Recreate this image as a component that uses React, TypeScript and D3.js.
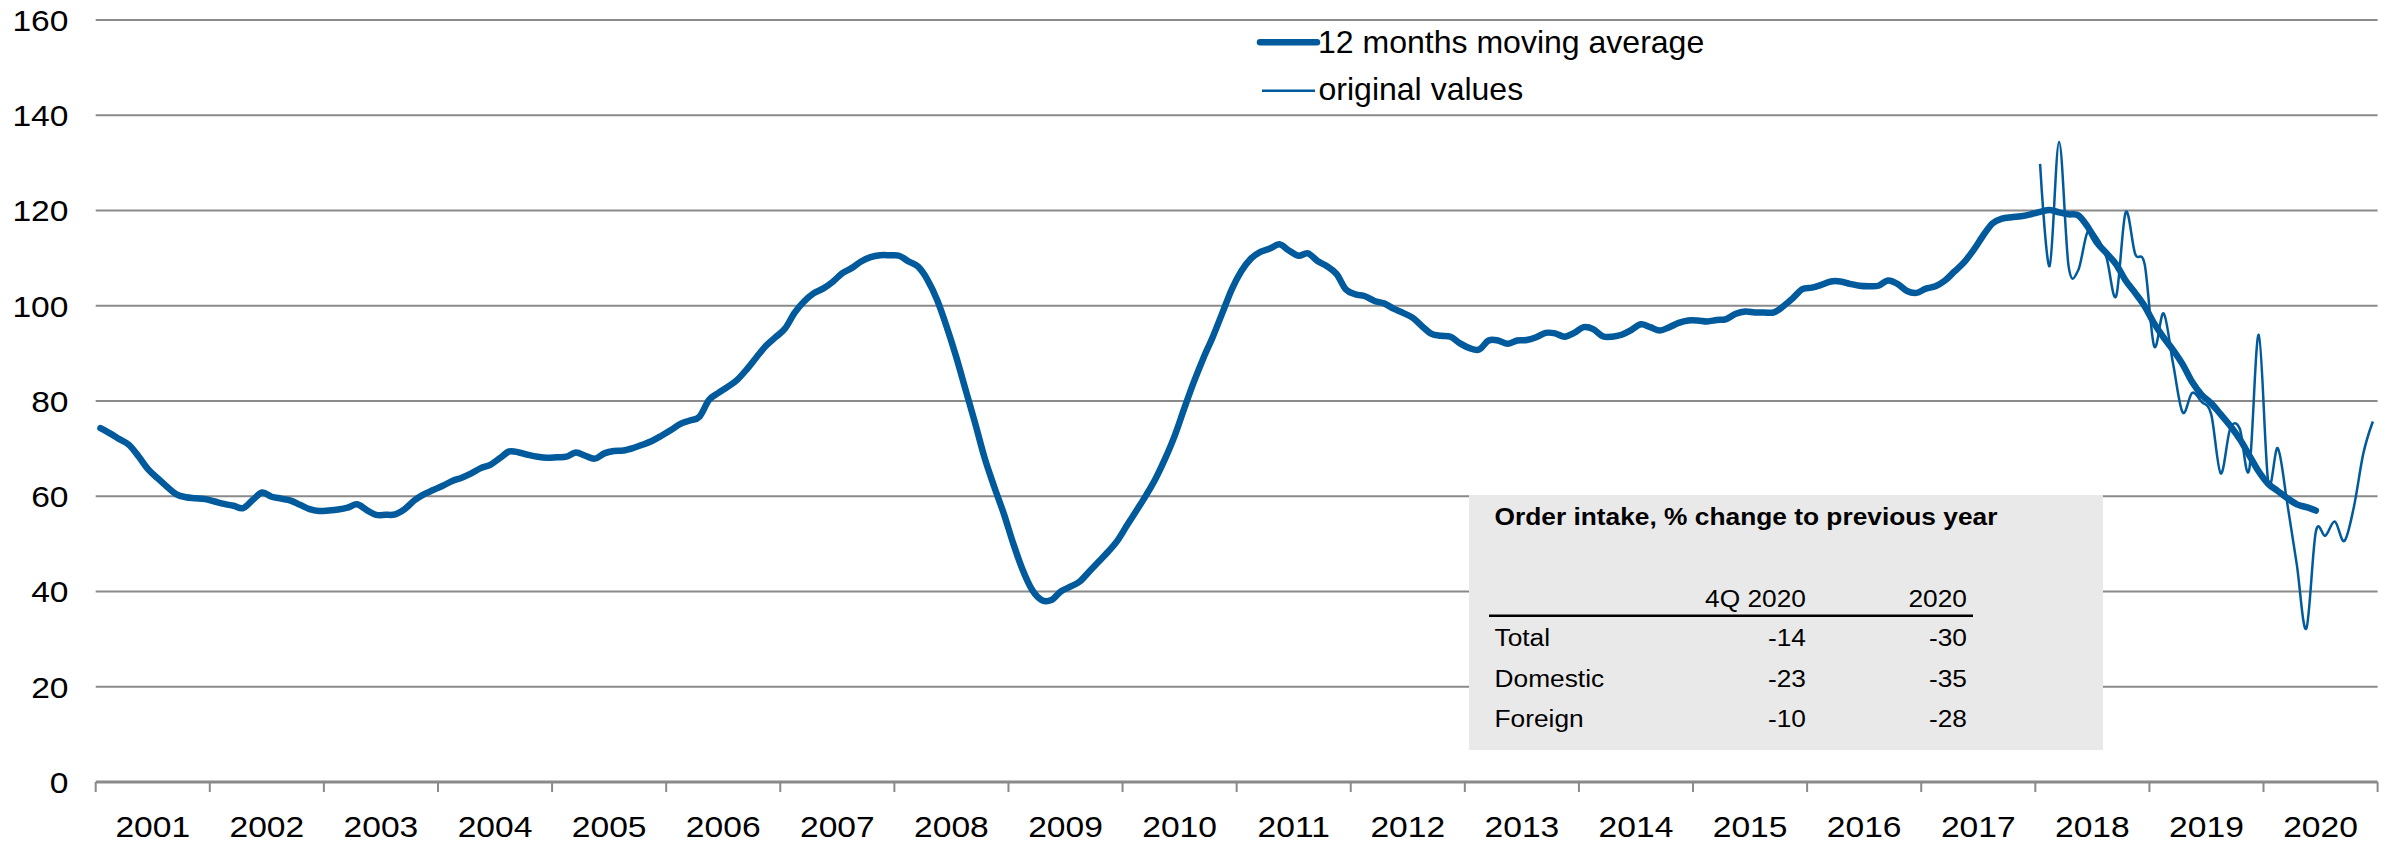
import React from "react";
import * as d3 from "d3";

// ---------- DATA ----------
const years = ["2001","2002","2003","2004","2005","2006","2007","2008","2009","2010","2011","2012","2013","2014","2015","2016","2017","2018","2019","2020"];
const yTicks = [0, 20, 40, 60, 80, 100, 120, 140, 160];

// 12 months moving average, monthly from Jan 2001
const movingAverageStart = { year: 2001, month: 1 };
const movingAverage = [
  74.3, 73.2, 72.0, 70.8, 68.4, 65.7, 63.8, 62.0, 60.4, 59.8, 59.6, 59.4,
  58.9, 58.4, 58.0, 57.5, 59.2, 60.8, 59.9, 59.5, 59.1, 58.2, 57.3, 56.9,
  57.0, 57.2, 57.6, 58.3, 57.1, 56.1, 56.1, 56.2, 57.3, 59.1, 60.4, 61.3,
  62.2, 63.2, 63.9, 64.8, 65.9, 66.6, 68.0, 69.4, 69.2, 68.7, 68.3, 68.1,
  68.2, 68.3, 69.2, 68.5, 67.9, 69.0, 69.5, 69.6, 70.1, 70.8, 71.6, 72.7,
  73.9, 75.2, 75.9, 76.7, 80.2, 81.7, 83.0, 84.5, 86.7, 89.2, 91.6, 93.4,
  95.2, 98.5, 100.9, 102.6, 103.6, 105.0, 106.8, 107.9, 109.3, 110.2, 110.6, 110.6,
  110.5, 109.3, 108.2, 105.4, 101.2, 95.6, 89.3, 82.3, 75.3, 68.0, 62.0, 56.4,
  50.1, 44.5, 40.3, 38.2, 38.2, 40.0, 41.0, 42.1, 44.2, 46.3, 48.4, 50.8,
  54.0, 57.1, 60.3, 63.8, 68.0, 72.8, 78.5, 84.0, 89.0, 93.5, 98.5, 103.5,
  107.3, 109.9, 111.3, 112.0, 112.9, 111.6, 110.5, 111.0, 109.4, 108.3, 106.7, 103.4,
  102.4, 102.0, 101.0, 100.5, 99.4, 98.5, 97.5, 95.7, 94.1, 93.7, 93.5, 92.1,
  91.1, 90.8, 92.7, 92.7, 92.0, 92.7, 92.8, 93.4, 94.3, 94.2, 93.5, 94.3,
  95.5, 95.1, 93.6, 93.5, 93.9, 94.9, 96.1, 95.5, 94.8, 95.5, 96.4, 96.9,
  96.9, 96.7, 97.0, 97.2, 98.3, 98.8, 98.6, 98.6, 98.6, 99.9, 101.6, 103.5,
  103.8, 104.4, 105.1, 105.1, 104.6, 104.2, 104.1, 104.2, 105.3, 104.6, 103.1, 102.7,
  103.6, 104.1, 105.3, 107.2, 109.1, 111.7, 114.7, 117.3, 118.3, 118.6, 118.8, 119.2,
  119.7, 120.1, 119.6, 119.2, 119.0, 116.6, 113.2, 111.0, 108.7, 105.3, 102.7, 99.9,
  96.3, 93.3, 90.7, 87.7, 84.0, 81.3, 79.5, 77.2, 74.8, 72.0, 68.6, 65.2,
  62.6, 61.1, 59.6, 58.3, 57.7, 57.0,
];

// original values, monthly from Jan 2018
const originalStart = { year: 2018, month: 1 };
const originalValues = [
  129.8, 108.3, 134.4, 108.3, 107.4, 115.5, 114.3, 110.0, 102.0, 119.6, 110.9, 108.7,
  91.5, 98.4, 87.7, 77.6, 81.7, 79.8, 77.2, 64.8, 74.2, 74.2, 65.6, 93.9,
  63.0, 70.1, 58.5, 45.7, 32.2, 52.5, 51.7, 54.7, 50.6, 57.7, 69.0, 75.7,
];

const legendLabels = ["12 months moving average", "original values"];

const tableTitle = "Order intake, % change to previous year";
const tableHeaders = ["4Q 2020", "2020"];
const tableRows = ["Total", "Domestic", "Foreign"];
const q4Values = [-14, -23, -10];
const yearValues = [-30, -35, -28];

// ---------- STYLE / LAYOUT ----------
const W = 2389;
const H = 843;
const BLUE = "#005A9B";
const GRID = "#8a8a8a";
const FONT = "'Liberation Sans', Arial, sans-serif";
const SX = 1.12; // horizontal text stretch

const firstYear = 2001;
const nMonths = years.length * 12;

const x = d3.scaleLinear().domain([0, nMonths]).range([95.7, 2377.6]);
const y = d3.scaleLinear().domain([0, 160]).range([782, 20]);

const monthIndex = (s: { year: number; month: number }, i: number) =>
  (s.year - firstYear) * 12 + (s.month - 1) + i;

const lineGen = d3
  .line<{ m: number; v: number }>()
  .x((d) => x(d.m + 0.5))
  .y((d) => y(d.v))
  .curve(d3.curveCardinal.tension(0));

function T(props: {
  x: number; y: number; anchor?: string; size: number; weight?: string; sx?: number; children: any;
}) {
  const sx = props.sx ?? SX;
  return (
    <text
      transform={`translate(${props.x},${props.y}) scale(${sx},1)`}
      textAnchor={props.anchor ?? "start"}
      fontFamily={FONT}
      fontSize={props.size}
      fontWeight={props.weight ?? "normal"}
      fill="#000"
    >
      {props.children}
    </text>
  );
}

export default function App() {
  const maData = movingAverage.map((v, i) => ({ m: monthIndex(movingAverageStart, i), v }));
  const origData = originalValues.map((v, i) => ({ m: monthIndex(originalStart, i), v }));

  const [x0, x1] = x.range();
  const boundaries = d3.range(0, nMonths + 1, 12);

  // table box geometry
  const box = { x: 1469, y: 495, w: 634, h: 255 };
  const colLabel = 1494.5;
  const col1 = 1806;
  const col2 = 1967;
  const rowY = [645.7, 686.7, 726.7];

  return (
    <svg
      width={W}
      height={H}
      style={{ position: "absolute", left: 0, top: 0, background: "#fff" }}
    >
      <rect x={0} y={0} width={W} height={H} fill="#fff" />
      {/* gridlines */}
      {yTicks.filter((t) => t !== 0).map((t) => (
        <line key={t} x1={x0} x2={x1} y1={y(t)} y2={y(t)} stroke={GRID} strokeWidth={2} />
      ))}
      {/* y tick labels */}
      {yTicks.map((t) => (
        <T key={"yl" + t} x={68.5} y={y(t) + 10.8} anchor="end" size={30}>
          {t}
        </T>
      ))}
      {/* x axis */}
      <line x1={x0} x2={x1} y1={y(0)} y2={y(0)} stroke={GRID} strokeWidth={2.8} />
      {boundaries.map((b) => (
        <line key={"tk" + b} x1={x(b)} x2={x(b)} y1={y(0)} y2={y(0) + 10} stroke={GRID} strokeWidth={2} />
      ))}
      {years.map((yr, i) => (
        <T key={yr} x={x(i * 12 + 6)} y={837.3} anchor="middle" size={30}>
          {yr}
        </T>
      ))}

      {/* table box */}
      <rect x={box.x} y={box.y} width={box.w} height={box.h} fill="#e9e9e9" />
      <T x={colLabel} y={525} size={23.5} weight="bold">{tableTitle}</T>
      <T x={col1} y={606.7} anchor="end" size={23.5}>{tableHeaders[0]}</T>
      <T x={col2} y={606.7} anchor="end" size={23.5}>{tableHeaders[1]}</T>
      <line x1={1489} x2={1973} y1={615.7} y2={615.7} stroke="#000" strokeWidth={2.5} />
      {tableRows.map((r, i) => (
        <g key={r}>
          <T x={colLabel} y={rowY[i]} size={23.5}>{r}</T>
          <T x={col1} y={rowY[i]} anchor="end" size={23.5}>{q4Values[i]}</T>
          <T x={col2} y={rowY[i]} anchor="end" size={23.5}>{yearValues[i]}</T>
        </g>
      ))}

      {/* series */}
      <path d={lineGen(origData) ?? ""} fill="none" stroke={BLUE} strokeWidth={2.5} strokeLinejoin="round" />
      <path d={lineGen(maData) ?? ""} fill="none" stroke={BLUE} strokeWidth={6.5} strokeLinejoin="round" strokeLinecap="round" />

      {/* legend */}
      <line x1={1260} x2={1317} y1={42.3} y2={42.3} stroke={BLUE} strokeWidth={6.5} strokeLinecap="round" />
      <T x={1318} y={53.3} size={30.5} sx={1.05}>{legendLabels[0]}</T>
      <line x1={1262} x2={1315} y1={90.7} y2={90.7} stroke={BLUE} strokeWidth={2.5} />
      <T x={1318.5} y={100} size={30.5} sx={1.05}>{legendLabels[1]}</T>
    </svg>
  );
}
